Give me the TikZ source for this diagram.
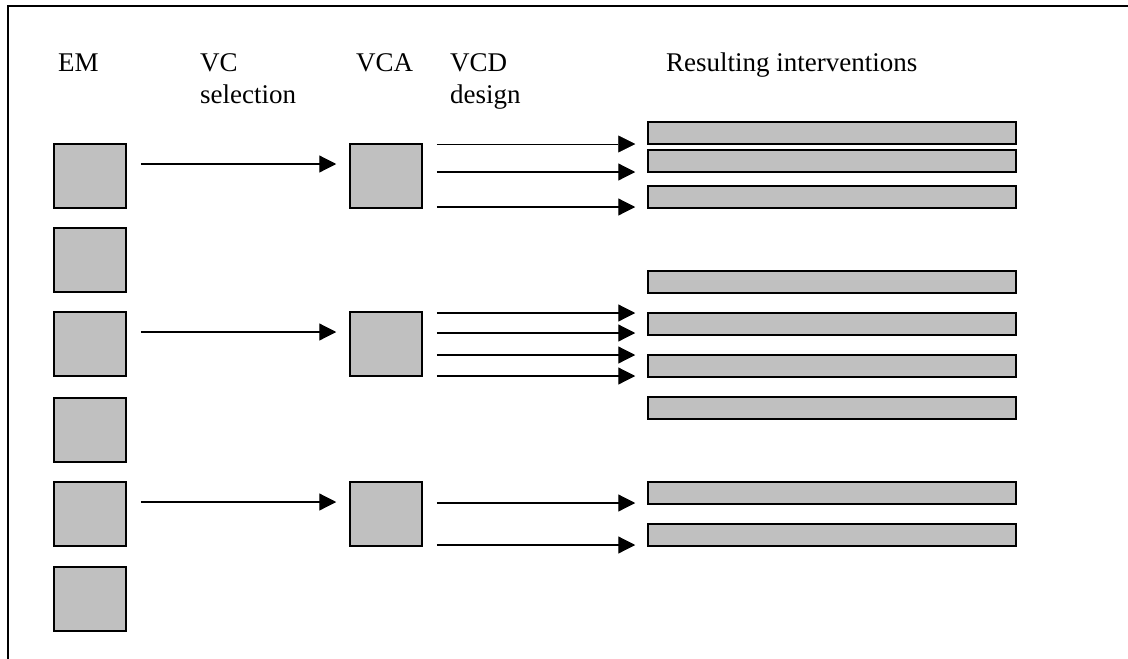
\documentclass[tikz,border=0pt]{standalone}
\usepackage{fontspec}
\setmainfont{Liberation Serif}
\usetikzlibrary{arrows.meta}
\definecolor{boxgray}{RGB}{192,192,192}
\tikzset{
  embox/.style={draw, fill=boxgray, line width=1.5pt, minimum width=72pt, minimum height=64pt, inner sep=0pt},
  bar/.style={draw, fill=boxgray, line width=1.5pt, minimum width=368pt, minimum height=22pt, inner sep=0pt},
  label/.style={anchor=base west, inner sep=0pt, font=\fontsize{27}{32}\selectfont},
  link/.style={line width=1.2pt, -{Triangle[length=17pt,width=17pt]}},
}
\begin{document}
\begin{tikzpicture}[x=1pt, y=-1pt]
            \useasboundingbox (0,0) rectangle (1128,659);
            \draw[line width=1.5pt] (8,659) -- (8,6) -- (1128,6);
            % column heads
            \node[label] (hem) at (58,71) {EM};
            \node[label] (hvc) at (200,71) {VC};
            \node[label] (hsel) at (200,103) {selection};
            \node[label] (hvca) at (356,71) {VCA};
            \node[label] (hvcd) at (450,71) {VCD};
            \node[label] (hdes) at (450,103) {design};
            \node[label] (hres) at (666,71) {Resulting interventions};
            % EM column
            \node[embox] (em1) at (90,176) {};
            \node[embox] (em2) at (90,260) {};
            \node[embox] (em3) at (90,344) {};
            \node[embox] (em4) at (90,430) {};
            \node[embox] (em5) at (90,514) {};
            \node[embox] (em6) at (90,599) {};
            % VCA column
            \node[embox] (vca1) at (386,176) {};
            \node[embox] (vca2) at (386,344) {};
            \node[embox] (vca3) at (386,514) {};
            % interventions
            \node[bar] (bar1) at (832,133) {};
            \node[bar] (bar2) at (832,161) {};
            \node[bar] (bar3) at (832,197) {};
            \node[bar] (bar4) at (832,282) {};
            \node[bar] (bar5) at (832,324) {};
            \node[bar] (bar6) at (832,366) {};
            \node[bar] (bar7) at (832,408) {};
            \node[bar] (bar8) at (832,493) {};
            \node[bar] (bar9) at (832,535) {};
            % VC selection
            \draw[link, shorten <=14pt, shorten >=13pt] (em1.east |- 0,164) -- (vca1.west |- 0,164);
            \draw[link, shorten <=14pt, shorten >=13pt] (em3.east |- 0,332) -- (vca2.west |- 0,332);
            \draw[link, shorten <=14pt, shorten >=13pt] (em5.east |- 0,502) -- (vca3.west |- 0,502);
            % VCD design
            \draw[link, line width=0.6pt, shorten <=14pt, shorten >=12pt] (vca1.east |- 0,144) -- (bar1.west |- 0,144);
            \draw[link, shorten <=14pt, shorten >=12pt] (vca1.east |- 0,172) -- (bar2.west |- 0,172);
            \draw[link, shorten <=14pt, shorten >=12pt] (vca1.east |- 0,207) -- (bar3.west |- 0,207);
            \draw[link, shorten <=14pt, shorten >=12pt] (vca2.east |- 0,313) -- (bar5.west |- 0,313);
            \draw[link, shorten <=14pt, shorten >=12pt] (vca2.east |- 0,333) -- (bar5.west |- 0,333);
            \draw[link, shorten <=14pt, shorten >=12pt] (vca2.east |- 0,355) -- (bar6.west |- 0,355);
            \draw[link, shorten <=14pt, shorten >=12pt] (vca2.east |- 0,376) -- (bar6.west |- 0,376);
            \draw[link, shorten <=14pt, shorten >=12pt] (vca3.east |- 0,503) -- (bar8.west |- 0,503);
            \draw[link, shorten <=14pt, shorten >=12pt] (vca3.east |- 0,545) -- (bar9.west |- 0,545);
\end{tikzpicture}
\end{document}
